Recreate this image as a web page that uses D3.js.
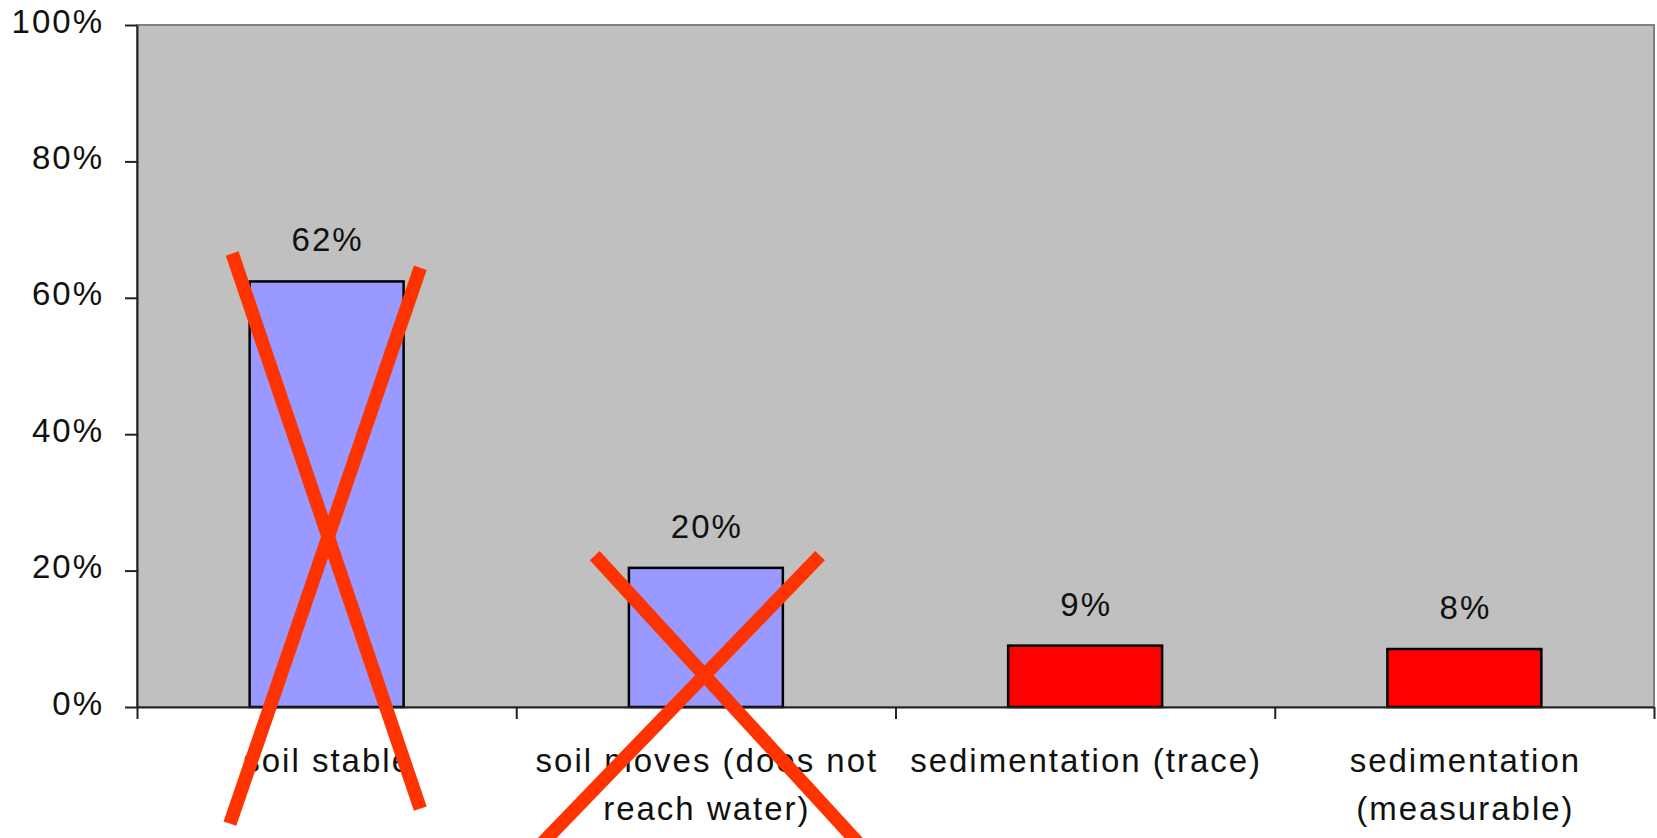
<!DOCTYPE html>
<html>
<head>
<meta charset="utf-8">
<script src="https://cdn.jsdelivr.net/npm/d3@7"></script>
<style>
	body { margin: 0; background: #fff; }
	svg { display: block; }
	text { font-family: "Liberation Sans", Arial, sans-serif; font-size: 33px; letter-spacing: 2px; fill: #111; }
</style>
</head>
<body>
<svg id="chart" width="1657" height="838"></svg>
<script>
// data
var categories = ["soil stable", "soil moves (does not reach water)", "sedimentation (trace)", "sedimentation (measurable)"];
var shares = [0.624, 0.204, 0.090, 0.085];
var valueLabels = ["62%", "20%", "9%", "8%"];
var barColours = ["#9999ff", "#9999ff", "#ff0000", "#ff0000"];
var yTicks = [0, 0.2, 0.4, 0.6, 0.8, 1];

// hand drawn crosses, in band units from the category centre and in share units
var strikes = [
	{ cat: 0, x1: -0.249, y1: 0.665, x2: 0.247, y2: -0.149 },
	{ cat: 0, x1: 0.247, y1: 0.644, x2: -0.255, y2: -0.171 },
	{ cat: 1, x1: -0.293, y1: 0.222, x2: 0.485, y2: -0.25 },
	{ cat: 1, x1: 0.301, y1: 0.222, x2: -0.519, y2: -0.25 }
];

var margin = { top: 25, right: 3, bottom: 131, left: 137 };
var svg = d3.select("#chart");
var width = +svg.attr("width") - margin.left - margin.right;
var height = +svg.attr("height") - margin.top - margin.bottom;
var g = svg.append("g").attr("transform", "translate(" + margin.left + "," + margin.top + ")");

// scales
var x = d3.scaleBand().domain(categories).range([0, width]).padding(0);
var xEdges = d3.scaleLinear().domain([0, categories.length]).range([0, width]);
var y = d3.scaleLinear().domain([0, 1]).range([height, 0]);
var barWidth = x.bandwidth() * 0.406;

// plot area
g.append("rect")
	.attr("width", width)
	.attr("height", height)
	.style("fill", "#c0c0c0")
	.style("stroke", "#808080")
	.style("stroke-width", 2);

// bars
var bars = g.selectAll(".bar")
	.data(categories)
	.enter()
	.append("g")
	.attr("class", "bar")
	.attr("transform", function(d) { return "translate(" + (x(d) + x.bandwidth() / 2) + ",0)"; });

bars.append("rect")
	.attr("x", -barWidth / 2)
	.attr("y", function(d, i) { return y(shares[i]); })
	.attr("width", barWidth)
	.attr("height", function(d, i) { return height - y(shares[i]); })
	.style("fill", function(d, i) { return barColours[i]; })
	.style("stroke", "#000")
	.style("stroke-width", 2.5);

bars.append("text")
	.attr("x", 1)
	.attr("y", function(d, i) { return y(shares[i]) - 30; })
	.style("text-anchor", "middle")
	.text(function(d, i) { return valueLabels[i]; });

// axes
var yAxis = d3.axisLeft(y)
	.tickValues(yTicks)
	.tickFormat(d3.format(".0%"))
	.tickSize(12)
	.tickSizeOuter(0)
	.tickPadding(21);
var yAxisG = g.append("g").attr("class", "axis y").call(yAxis);
yAxisG.selectAll("text").attr("dy", "7px").style("font-size", "33px").style("font-family", null).style("fill", "#111");

var xAxis = d3.axisBottom(xEdges)
	.tickValues(d3.range(categories.length + 1))
	.tickFormat("")
	.tickSize(12)
	.tickSizeOuter(0);
var xAxisG = g.append("g").attr("class", "axis x").attr("transform", "translate(0," + height + ")").call(xAxis);

g.selectAll(".axis path, .axis line").style("stroke", "#222").style("stroke-width", 2);

// category labels, wrapped like the original
var labels = g.selectAll(".cat-label")
	.data(categories)
	.enter()
	.append("text")
	.attr("class", "cat-label")
	.attr("x", function(d) { return x(d) + x.bandwidth() / 2 + 1; })
	.attr("y", height + 65)
	.style("text-anchor", "middle");

labels.each(function(d) {
	var text = d3.select(this);
	var words = d.split(" ");
	var line = [];
	var tspan = text.append("tspan").attr("x", text.attr("x")).attr("dy", 0);
	words.forEach(function(w) {
		line.push(w);
		tspan.text(line.join(" "));
		if (tspan.node().getComputedTextLength() > 365 && line.length > 1) {
			line.pop();
			tspan.text(line.join(" "));
			line = [w];
			tspan = text.append("tspan").attr("x", text.attr("x")).attr("dy", 48).text(w);
		}
	});
});

// red crosses
g.selectAll(".strike")
	.data(strikes)
	.enter()
	.append("line")
	.attr("class", "strike")
	.attr("x1", function(d) { return x(categories[d.cat]) + x.bandwidth() * (0.5 + d.x1); })
	.attr("y1", function(d) { return y(d.y1); })
	.attr("x2", function(d) { return x(categories[d.cat]) + x.bandwidth() * (0.5 + d.x2); })
	.attr("y2", function(d) { return y(d.y2); })
	.style("stroke", "#ff3300")
	.style("stroke-width", 13.5);
</script>
</body>
</html>
